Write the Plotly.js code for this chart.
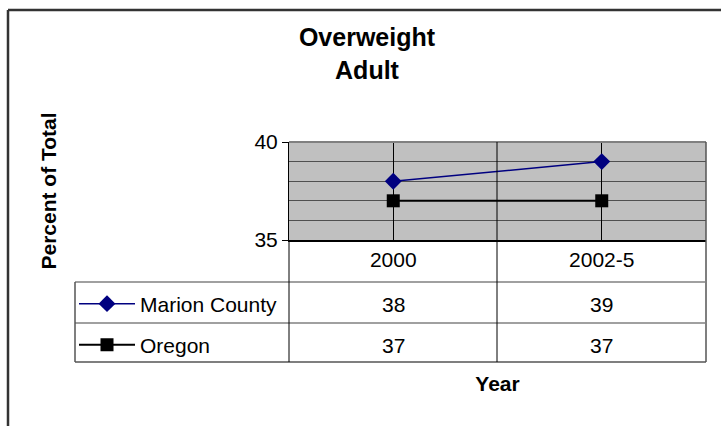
<!DOCTYPE html>
<html><head><meta charset="utf-8">
<script src="https://cdn.plot.ly/plotly-3.0.1.min.js"></script>
<style>html,body{margin:0;padding:0;background:#fff}#chart{width:721px;height:426px}</style>
</head><body><div id="chart"></div>
<script>
const categories = ['2000', '2002-5'];
const marionCounty = [38, 39];
const oregon = [37, 37];
const seriesNames = ['Marion County', 'Oregon'];
const yTickValues = [35, 40];
const yTickLabels = ['35', '40'];
const titleText = 'Overweight<br>Adult';
const xTitle = 'Year';
const yTitle = 'Percent of Total';

const W = 721, H = 426;
const L = 289, R = 706, T = 142, B = 240;
const pw = R - L, ph = B - T;
const px = x => (x - L) / pw;
const py = y => (B - y) / ph;
const FONT = 'Arial, "Liberation Sans", sans-serif';
const FS = 21;

const rowY = [304, 345];
const series = [marionCounty, oregon];

const traces = [
  {type: 'scatter', mode: 'lines+markers', x: categories, y: marionCounty, name: seriesNames[0],
   line: {color: '#000080', width: 1.5}, marker: {symbol: 'diamond', size: 13, color: '#000080'},
   legend: 'legend', cliponaxis: false, hoverinfo: 'skip'},
  {type: 'scatter', mode: 'lines+markers', x: categories, y: oregon, name: seriesNames[1],
   line: {color: '#000000', width: 2}, marker: {symbol: 'square', size: 13, color: '#000000'},
   legend: 'legend2', cliponaxis: false, hoverinfo: 'skip'}
];

const annotations = [];
series.forEach((vals, r) => {
  vals.forEach((v, i) => {
    annotations.push({xref: 'x', yref: 'paper', x: i, y: py(rowY[r]), text: String(v),
      showarrow: false, xanchor: 'center', yanchor: 'middle', font: {family: FONT, size: FS, color: '#000'}});
  });
});

const hl = (x0, x1, y, c, w) => ({type: 'line', xref: 'paper', yref: 'paper', x0: px(x0), x1: px(x1), y0: py(y), y1: py(y), line: {color: c, width: w}, layer: 'above'});
const vl = (x, y0, y1, c, w) => ({type: 'line', xref: 'paper', yref: 'paper', x0: px(x), x1: px(x), y0: py(y0), y1: py(y1), line: {color: c, width: w}, layer: 'above'});

const shapes = [
  // outer chart border
  hl(8, 730, 10, '#333333', 2.5),
  vl(8, 10, 440, '#333333', 2.5),
  // plot border top / right
  hl(L, R, T, '#808080', 2),
  vl(R, T, 362, '#555555', 1.5),
  // table
  hl(75, R, 282, '#808080', 1.5),
  hl(75, R, 323, '#808080', 1.5),
  hl(75, R, 362, '#555555', 1.5),
  vl(75, 282, 362, '#555555', 1.5),
  vl(L, B, 362, '#000000', 1),
  vl(497, T, 362, '#000000', 1)
];

const legendBase = {xanchor: 'left', yanchor: 'middle', bgcolor: 'rgba(0,0,0,0)', borderwidth: 0,
  font: {family: FONT, size: FS, color: '#000'}, itemwidth: 56, itemclick: false, itemdoubleclick: false};

const layout = {
  width: W, height: H,
  margin: {l: L, r: W - R, t: T, b: H - B, pad: 0},
  paper_bgcolor: '#ffffff', plot_bgcolor: '#c0c0c0',
  font: {family: FONT, color: '#000'},
  showlegend: true,
  legend: Object.assign({}, legendBase, {x: px(74), y: py(rowY[0])}),
  legend2: Object.assign({}, legendBase, {x: px(74), y: py(rowY[1])}),
  title: {text: '<b>' + titleText + '</b>', font: {family: FONT, size: 25, color: '#000'},
    x: 367 / W, xref: 'container', xanchor: 'center', y: 1 - 46 / H, yref: 'container', yanchor: 'middle'},
  xaxis: {type: 'category', range: [-0.5, 1.5], showgrid: true, gridcolor: '#000', gridwidth: 1,
    showline: true, linecolor: '#000', linewidth: 2, zeroline: false, ticks: '',
    tickfont: {family: FONT, size: FS, color: '#000'}, fixedrange: true,
    title: {text: '<b>' + xTitle + '</b>', font: {family: FONT, size: FS, color: '#000'}, standoff: 106}},
  yaxis: {range: [35, 40], tickvals: yTickValues, ticktext: yTickLabels, ticks: 'outside', ticklen: 6,
    tickcolor: '#000', tickwidth: 1, showline: true, linecolor: '#000', linewidth: 1,
    showgrid: true, gridcolor: '#505050', gridwidth: 1, zeroline: false,
    minor: {dtick: 1, showgrid: true, gridcolor: '#505050', gridwidth: 1, ticks: ''},
    tickfont: {family: FONT, size: FS, color: '#000'}, fixedrange: true,
    title: {text: '<b>' + yTitle + '</b>', font: {family: FONT, size: FS, color: '#000'}, standoff: 192}},
  annotations: annotations,
  shapes: shapes
};

Plotly.newPlot('chart', traces, layout, {displayModeBar: false, staticPlot: true});
</script>
</body></html>
